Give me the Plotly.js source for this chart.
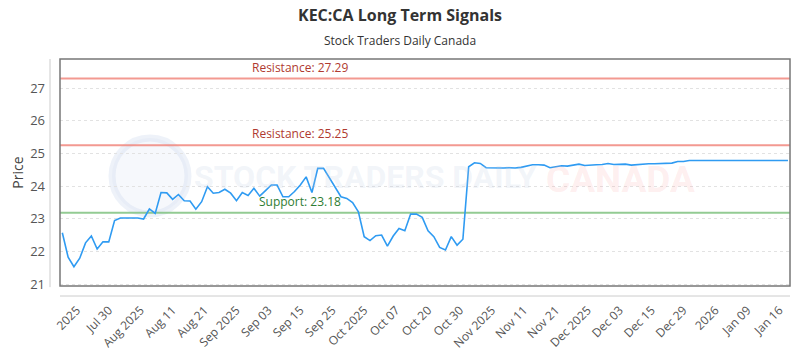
<!DOCTYPE html>
<html>
<head>
<meta charset="utf-8">
<script src="https://cdn.plot.ly/plotly-3.0.1.min.js"></script>
<style>html,body{margin:0;padding:0;background:#fff;}#chart{width:800px;height:350px;}</style>
</head>
<body>
<div id="chart"></div>
<script>
// ---- data ----
const prices = [
  22.57, 21.82, 21.53, 21.79, 22.26, 22.47, 22.07, 22.29, 22.29, 22.94,
  23.02, 23.03, 23.02, 23.02, 22.99, 23.30, 23.16, 23.80, 23.79, 23.59,
  23.74, 23.55, 23.54, 23.29, 23.52, 23.98, 23.78, 23.80, 23.90, 23.78,
  23.55, 23.80, 23.71, 23.93, 23.69, 23.86, 24.03, 24.03, 23.67, 23.67,
  23.83, 24.03, 24.28, 23.80, 24.54, 24.54, 24.25, 23.98, 23.67, 23.62,
  23.49, 23.21, 22.45, 22.33, 22.48, 22.50, 22.16, 22.47, 22.70, 22.63,
  23.14, 23.14, 23.04, 22.63, 22.45, 22.12, 22.04, 22.45, 22.19, 22.37,
  24.59, 24.71, 24.69, 24.56, 24.55, 24.55, 24.55, 24.56, 24.55, 24.57,
  24.62, 24.65, 24.65, 24.64, 24.56, 24.60, 24.62, 24.61, 24.65, 24.67,
  24.63, 24.63, 24.65, 24.66, 24.69, 24.66, 24.67, 24.67, 24.64, 24.66,
  24.67, 24.68, 24.68, 24.69, 24.69, 24.70, 24.75, 24.75, 24.78, 24.78,
  24.78, 24.78, 24.78, 24.78, 24.78, 24.78, 24.78, 24.78, 24.78, 24.78,
  24.78, 24.78, 24.78, 24.78, 24.78, 24.78
];
const tickLabels = ["2025", "Jul 30", "Aug 2025", "Aug 11", "Aug 21", "Sep 2025", "Sep 03",
  "Sep 15", "Sep 25", "Oct 2025", "Oct 07", "Oct 20", "Oct 30", "Nov 2025", "Nov 11",
  "Nov 21", "Dec 2025", "Dec 03", "Dec 15", "Dec 29", "2026", "Jan 09", "Jan 16"];
const levelNames = ["Resistance", "Resistance", "Support"];
const levelValues = [27.29, 25.25, 23.18];
const levelKinds = ["res", "res", "sup"];

// ---- build ----
const xIdx = prices.map((_, i) => i);
const tickStart = 2.5, tickStep = 5.5;
const tickVals = tickLabels.map((_, i) => tickStart + i * tickStep);

const FONT = "Open Sans, Noto Sans, sans-serif";
const lineColor = {res: "rgba(240,128,118,0.8)", sup: "rgba(120,190,120,0.8)"};
const textColor = {res: "#b03a30", sup: "#2e7d32"};

const shapes = [];
const annotations = [];

// watermark logo
shapes.push({type: "circle", xref: "paper", yref: "paper", layer: "below",
  x0: (112 - 60) / 730, x1: (188 - 60) / 730, y0: (286 - 214) / 227, y1: (286 - 138) / 227,
  line: {color: "rgba(200,212,235,0.3)", width: 7}, fillcolor: "rgba(220,228,244,0.25)"});
annotations.push({xref: "paper", yref: "paper", x: (365 - 60) / 730, xanchor: "center",
  y: (286 - 177) / 227, yanchor: "middle",
  text: "<b>STOCK TRADERS DAILY</b>", showarrow: false,
  font: {family: "Liberation Sans Narrow, Roboto, sans-serif", size: 32, color: "rgba(190,203,226,0.2)"}});
annotations.push({xref: "paper", yref: "paper", x: (620 - 60) / 730, xanchor: "center",
  y: (286 - 179) / 227, yanchor: "middle",
  text: "<b>CANADA</b>", showarrow: false,
  font: {family: "Roboto, sans-serif", size: 37, color: "rgba(250,160,160,0.18)"}});

levelValues.forEach((v, i) => {
  const k = levelKinds[i];
  shapes.push({type: "line", xref: "paper", yref: "y", x0: 0, x1: 1, y0: v, y1: v,
    line: {color: lineColor[k], width: 2}, layer: "below"});
  annotations.push({xref: "paper", yref: "y", x: (300 - 60) / 730, xanchor: "center", y: v, yanchor: "bottom",
    yshift: 1, showarrow: false, text: levelNames[i] + ": " + v.toFixed(2),
    font: {family: FONT, size: 12, color: textColor[k]}});
});

// plot frame and offset axis lines
shapes.push({type: "rect", xref: "paper", yref: "paper", x0: 0, x1: 1, y0: 0, y1: 1,
  line: {color: "#777", width: 1.5}});
shapes.push({type: "line", xref: "paper", yref: "paper", x0: -10 / 730, x1: -10 / 730, y0: -0.005, y1: 1,
  line: {color: "#ccc", width: 1}});
shapes.push({type: "line", xref: "paper", yref: "paper", x0: 0, x1: 1, y0: -10 / 227, y1: -10 / 227,
  line: {color: "#ccc", width: 1}});

// subtitle
annotations.push({xref: "paper", yref: "paper", x: (400 - 60) / 730, xanchor: "center",
  y: (286 - 40) / 227, yanchor: "middle",
  text: "Stock Traders Daily Canada", showarrow: false,
  font: {family: FONT, size: 12, color: "#333"}});

const trace = {x: xIdx, y: prices, type: "scatter", mode: "lines",
  line: {color: "#2f9bf2", width: 1.6}, hoverinfo: "y"};

const layout = {
  width: 800, height: 350,
  margin: {l: 60, r: 10, t: 59, b: 64},
  paper_bgcolor: "#fff", plot_bgcolor: "#fff",
  showlegend: false,
  font: {family: FONT, color: "#444"},
  title: {text: "<b>KEC:CA Long Term Signals</b>", x: 0.5, xref: "container", xanchor: "center",
    y: 1 - 15 / 350, yref: "container", yanchor: "middle",
    font: {family: FONT, size: 16, color: "#333"}},
  xaxis: {range: [-0.4, 125.35], tickmode: "array", tickvals: tickVals, ticktext: tickLabels,
    tickangle: -45, showgrid: false, zeroline: false, showline: false, ticks: "",
    ticklabelstandoff: 14, tickfont: {family: FONT, size: 12, color: "#555"}},
  yaxis: {range: [20.939, 27.888], tick0: 21, dtick: 1, showgrid: true,
    gridcolor: "#e2e2e2", griddash: "dot", gridwidth: 1, zeroline: false, showline: false,
    ticks: "", ticklabelstandoff: 14, tickfont: {family: FONT, size: 13, color: "#555"},
    title: {text: "Price", standoff: 3, font: {family: FONT, size: 14, color: "#444"}}},
  shapes: shapes,
  annotations: annotations
};

Plotly.newPlot("chart", [trace], layout, {displayModeBar: false, staticPlot: true});
</script>
</body>
</html>
